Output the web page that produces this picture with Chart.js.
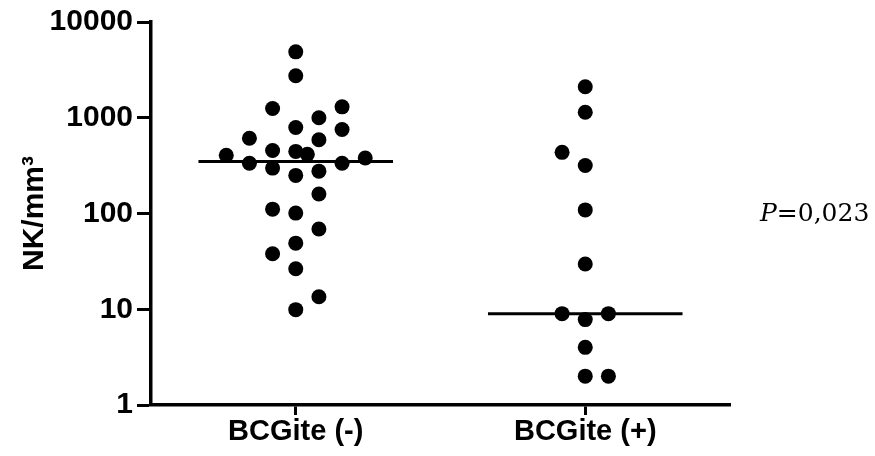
<!DOCTYPE html>
<html>
<head>
<meta charset="utf-8">
<script src="https://cdn.jsdelivr.net/npm/chart.js@4/dist/chart.umd.min.js"></script>
<style>
  html, body { margin: 0; padding: 0; background: #fff; }
  #wrap { width: 875px; height: 456px; }
</style>
</head>
<body>
<div id="wrap"><canvas id="myChart"></canvas></div>
<script>
// groups on the x axis
var categories = ['BCGite (-)', 'BCGite (+)'];

// NK/mm3 for each patient, with the column slot the dot sits in (scatter jitter)
var minusValues = [4880, 2750, 1250, 1300, 1000, 790, 755, 610, 590, 455, 445, 415, 405, 335, 335, 380,
                   298, 277, 250, 160, 111, 101, 69, 49, 38, 26.5, 13.5, 9.9];
var minusSlots  = [0, 0, -1, 2, 1, 0, 2, -2, 1, -1, 0, 0.5, -3, -2, 2, 3,
                   -1, 1, 0, 1, -1, 0, 1, 0, -1, 0, 1, 0];

var plusValues = [2110, 1140, 435, 317, 109, 29.7, 9, 9, 7.8, 4, 2, 2];
var plusSlots  = [0, 0, -1, 0, 0, 0, -1, 1, 0, 0, 0, 1];

var medians = [350, 9];

var yTicks = [1, 10, 100, 1000, 10000];
var pText = 'P=0,023';

document.addEventListener('DOMContentLoaded', function() {
  var ctx = document.getElementById('myChart').getContext('2d');
  var slotW = 0.08;
  var halfBar = 0.336;

  function points(catIdx, values, slots) {
    return values.map(function(v, i) {
      return { x: catIdx + 1 + slots[i] * slotW, y: v };
    });
  }

  function medianLine(catIdx) {
    return [
      { x: catIdx + 1 - halfBar, y: medians[catIdx] },
      { x: catIdx + 1 + halfBar, y: medians[catIdx] }
    ];
  }

  var dotStyle = {
    type: 'scatter',
    pointRadius: 7.5,
    pointHoverRadius: 7.5,
    pointBackgroundColor: '#000',
    pointBorderWidth: 0,
    showLine: false
  };

  var lineStyle = {
    type: 'line',
    borderColor: '#000',
    borderWidth: 3,
    pointRadius: 0,
    fill: false
  };

  // italic P followed by the value, drawn at the right of the plot
  var pValuePlugin = {
    id: 'pValue',
    afterDraw: function(chart) {
      var c = chart.ctx;
      var x = chart.chartArea.right + 30;
      var y = 214;
      c.save();
      c.fillStyle = '#000';
      c.textBaseline = 'middle';
      c.font = 'italic 25px "DejaVu Serif", serif';
      c.fillText(pText.charAt(0), x, y);
      var w = c.measureText(pText.charAt(0)).width;
      c.font = '25px "DejaVu Serif", serif';
      c.fillText(pText.slice(1), x + w, y);
      c.restore();
    }
  };

  var family = '"Liberation Sans", Arial, sans-serif';

  new Chart(ctx, {
    data: {
      datasets: [
        Object.assign({ label: categories[0], data: points(0, minusValues, minusSlots) }, dotStyle),
        Object.assign({ label: categories[1], data: points(1, plusValues, plusSlots) }, dotStyle),
        Object.assign({ label: 'median 1', data: medianLine(0) }, lineStyle),
        Object.assign({ label: 'median 2', data: medianLine(1) }, lineStyle)
      ]
    },
    options: {
      responsive: true,
      maintainAspectRatio: false,
      animation: false,
      layout: { padding: { left: 0, right: 145, top: 20, bottom: 0 } },
      plugins: {
        legend: false,
        tooltip: false
      },
      scales: {
        x: {
          type: 'linear',
          min: 0.5,
          max: 2.5,
          afterBuildTicks: function(axis) {
            axis.ticks = categories.map(function(c, i) { return { value: i + 1 }; });
          },
          afterFit: function(axis) { axis.height = 51; },
          ticks: {
            color: '#000',
            font: { family: family, size: 29, weight: 'bold' },
            padding: 0,
            callback: function(v) { return categories[v - 1]; }
          },
          grid: {
            drawOnChartArea: false,
            tickLength: 10,
            tickColor: '#000',
            tickWidth: 3
          },
          border: { display: true, color: '#000', width: 3.5 }
        },
        y: {
          type: 'logarithmic',
          min: 1,
          max: 10000,
          afterBuildTicks: function(axis) {
            axis.ticks = yTicks.map(function(v) { return { value: v }; });
          },
          afterFit: function(axis) { axis.width = 151; },
          ticks: {
            color: '#000',
            font: { family: family, size: 30, weight: 'bold' },
            padding: 4,
            callback: function(v) { return String(v); }
          },
          grid: {
            drawOnChartArea: false,
            tickLength: 14,
            tickColor: '#000',
            tickWidth: 3
          },
          border: { display: true, color: '#000', width: 3.5 },
          title: {
            display: true,
            text: 'NK/mm³',
            color: '#000',
            font: { family: family, size: 30, weight: 'bold' },
            padding: { top: 17, bottom: 0 }
          }
        }
      }
    },
    plugins: [pValuePlugin]
  });
});
</script>
</body>
</html>
